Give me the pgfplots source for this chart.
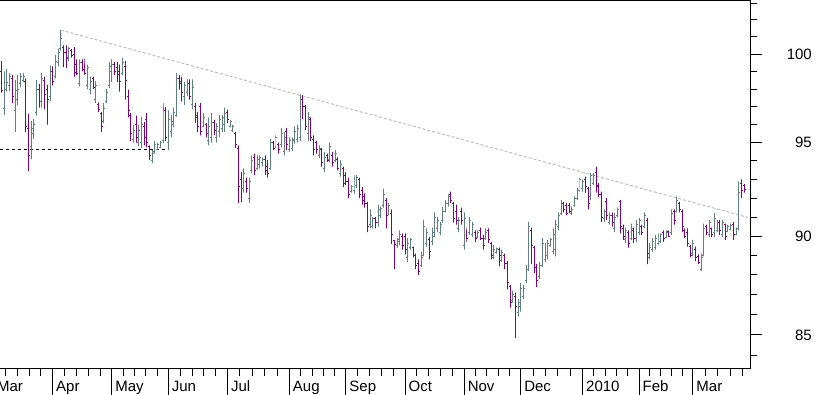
\documentclass[border=0pt]{standalone}
\usepackage{pgfplots}
\usepackage{pgfplotstable}
\pgfplotsset{compat=1.18}
\usepackage{fontspec}
\setmainfont{Liberation Sans}
\definecolor{upc}{RGB}{95,127,135}
\definecolor{downc}{RGB}{128,0,128}
\definecolor{trendc}{RGB}{190,190,190}
\pgfplotstableread{
k o h l c
-19 99.0 99.6 97.8 97.9
-18 96.9 99.0 96.55 98.0
-17 98.0 99.15 97.85 98.35
-16 98.2 98.9 97.9 98.7
-15 98.6 98.8 97.2 97.6
-14 96.8 98.5 95.6 97.9
-13 97.4 98.8 97.1 98.0
-12 98.3 98.9 98.1 98.7
-11 98.5 98.9 98.4 98.7
-10 98.4 98.6 95.6 95.9
-9 95.8 96.6 93.45 94.3
-8 94.8 96.2 94.1 95.8
-7 95.5 96.3 95.2 96.0
-6 96.7 98.5 96.5 98.0
-5 98.0 98.3 96.95 97.3
-4 97.3 98.9 96.95 98.6
-3 98.5 98.7 96.85 97.7
-2 98.0 98.25 96.0 97.4
-1 97.6 99.35 97.3 98.8
0 99.0 99.3 98.2 98.4
1 98.7 99.95 98.6 99.6
2 99.5 100.3 99.3 100.1
3 100.3 101.4 100.2 100.9
4 100.4 100.5 99.25 100.1
5 100.1 100.5 99.2 99.75
6 99.8 100.4 99.6 100.3
7 100.2 100.3 99.8 99.9
8 100.0 100.4 98.7 98.95
9 99.4 99.7 98.8 98.9
10 98.3 99.7 98.15 99.5
11 99.5 99.7 99.0 99.1
12 99.4 99.75 98.8 98.9
13 98.2 99.4 98.0 99.2
14 98.0 98.7 97.7 98.4
15 98.6 98.7 98.0 98.1
16 97.4 98.45 97.2 98.2
17 97.15 97.25 96.7 96.85
18 96.6 96.7 95.6 95.9
19 96.2 97.2 96.1 96.9
20 97.3 98.0 97.2 97.8
21 98.2 99.55 98.05 99.3
22 99.0 99.7 98.4 99.4
23 99.4 99.55 98.8 99.0
24 99.2 99.55 98.4 98.8
25 99.0 99.4 97.85 98.4
26 98.9 99.8 98.8 99.5
27 99.3 99.6 97.4 98.5
28 97.6 97.97 96.4 96.8
29 96.5 96.65 95.1 95.5
30 95.2 96.0 95.0 95.7
31 96.0 96.5 95.0 95.3
32 95.0 96.0 94.8 95.7
33 95.0 96.45 94.7 96.0
34 95.9 96.15 94.85 95.3
35 96.3 96.65 94.75 95.0
36 94.8 94.86 94.05 94.3
37 94.0 94.6 93.9 94.4
38 94.5 95.1 94.4 94.9
39 94.65 95.0 94.6 94.9
40 94.75 95.1 94.7 95.0
41 95.1 97.2 94.95 96.8
42 96.8 97.0 95.1 95.3
43 95.0 96.8 94.6 96.3
44 95.6 96.55 95.3 96.2
45 96.0 96.95 95.85 96.7
46 96.5 98.9 96.45 98.6
47 98.6 98.8 97.97 98.3
48 98.4 98.7 97.3 97.8
49 97.6 98.4 97.1 98.2
50 97.8 98.55 97.6 98.3
51 98.3 98.55 97.4 97.6
52 97.1 98.55 96.85 98.1
53 97.0 97.2 96.1 96.4
54 96.5 96.7 95.6 95.9
55 97.0 97.2 95.4 95.6
56 95.9 96.65 95.85 96.4
57 96.0 96.1 95.3 95.5
58 95.1 96.4 94.85 95.9
59 95.3 96.65 95.0 96.1
60 96.1 96.27 95.42 95.7
61 95.3 96.1 95.0 95.9
62 95.6 96.55 95.3 96.3
63 95.8 96.55 95.6 96.4
64 96.0 96.95 95.6 96.6
65 96.7 96.84 96.1 96.3
66 95.9 96.27 95.85 96.15
67 95.7 95.98 95.6 95.9
68 95.5 95.6 94.7 94.9
69 94.7 94.86 91.75 92.6
70 93.0 93.4 91.8 92.4
71 92.5 93.6 92.3 93.3
72 92.9 93.1 92.3 92.5
73 92.0 93.1 91.75 92.9
74 93.5 94.3 93.35 94.0
75 94.2 94.4 93.25 93.5
76 93.6 94.3 93.5 94.1
77 93.8 94.3 93.6 94.2
78 93.9 94.2 93.7 94.1
79 94.1 94.3 93.25 93.5
80 93.7 94.05 93.1 93.3
81 93.6 95.2 93.5 95.0
82 95.0 95.1 94.6 94.7
83 94.8 95.4 94.7 95.3
84 94.9 95.0 94.4 94.6
85 94.9 95.8 94.75 95.5
86 94.5 95.6 94.3 95.3
87 95.6 95.8 94.6 94.9
88 94.6 95.3 94.5 95.1
89 94.7 95.3 94.55 95.2
90 95.1 95.9 94.95 95.6
91 95.2 96.0 95.0 95.8
92 95.3 97.7 95.1 97.4
93 97.4 97.65 96.3 97.0
94 97.0 97.1 95.7 95.9
95 95.5 96.7 95.1 96.4
96 96.3 96.4 95.1 95.3
97 95.2 95.4 94.3 94.6
98 95.0 95.1 94.4 94.6
99 94.3 94.86 94.15 94.7
100 94.6 94.7 93.7 93.9
101 93.6 94.5 93.4 94.2
102 94.3 94.4 93.95 94.05
103 94.1 95.0 93.95 94.8
104 94.3 94.5 93.7 93.9
105 94.0 94.6 93.95 94.4
106 94.1 94.2 93.5 93.6
107 93.3 94.05 93.15 93.8
108 93.6 93.7 92.6 92.8
109 93.2 93.4 92.7 92.9
110 92.9 93.1 92.0 92.2
111 92.35 92.7 92.3 92.6
112 92.4 93.25 92.2 93.0
113 92.7 93.25 92.55 93.1
114 93.0 93.1 92.0 92.2
115 92.4 92.6 91.65 91.9
116 92.1 92.25 91.5 91.7
117 91.7 91.8 90.2 90.5
118 90.6 91.4 90.4 91.1
119 90.5 91.0 90.4 90.9
120 90.9 91.0 90.4 90.7
121 90.7 91.65 90.5 91.4
122 91.1 91.55 90.95 91.45
123 91.6 92.5 91.5 92.2
124 91.9 92.0 90.4 91.1
125 91.2 91.75 91.1 91.6
126 91.2 91.4 89.6 90.1
127 89.75 89.8 88.3 89.55
128 89.5 89.9 89.4 89.8
129 89.7 90.3 89.55 90.1
130 90.0 90.15 89.3 89.5
131 90.0 90.15 89.05 89.3
132 88.9 89.9 88.65 89.6
133 89.4 89.9 89.3 89.8
134 89.4 89.45 88.9 89.0
135 89.0 89.1 88.3 88.5
136 88.6 88.8 88.0 88.2
137 88.5 89.2 88.4 88.9
138 89.0 90.85 88.95 90.5
139 89.6 90.4 89.45 90.2
140 89.8 89.95 88.8 89.2
141 89.7 90.45 89.55 90.2
142 90.0 91.25 89.95 91.0
143 90.4 91.0 90.2 90.8
144 90.2 90.75 90.05 90.6
145 90.8 91.55 90.7 91.3
146 91.3 91.9 91.25 91.7
147 91.7 92.2 91.55 92.1
148 92.2 92.35 91.75 91.9
149 91.7 91.8 90.7 90.9
150 91.3 91.65 90.6 90.8
151 90.4 91.0 90.2 90.8
152 91.3 91.5 90.6 90.8
153 89.5 91.25 89.3 90.9
154 90.3 90.45 89.7 89.9
155 90.2 91.0 90.05 90.8
156 90.1 90.75 89.95 90.6
157 90.2 90.3 89.7 89.9
158 89.95 90.3 89.9 90.2
159 90.3 90.45 89.8 89.9
160 89.9 90.05 89.3 89.5
161 89.9 90.4 89.8 90.2
162 90.3 90.4 89.65 89.8
163 89.6 89.7 88.8 89.0
164 88.9 89.55 88.8 89.3
165 89.15 89.4 89.1 89.35
166 89.3 89.4 88.45 89.0
167 88.75 89.3 88.65 89.15
168 89.0 89.1 88.3 88.6
169 88.6 88.7 87.27 87.6
170 87.4 87.5 86.35 86.6
171 86.7 87.2 86.6 87.0
172 86.9 87.1 84.85 86.4
173 86.1 86.77 85.9 86.6
174 86.4 87.6 86.15 87.3
175 86.9 87.5 86.77 87.3
176 87.7 88.5 87.6 88.3
177 88.3 90.75 88.2 90.5
178 90.3 90.45 88.55 89.5
179 89.4 89.5 88.1 88.4
180 88.4 88.55 87.4 87.7
181 87.9 88.65 87.78 88.5
182 88.5 89.9 88.4 89.6
183 88.8 89.65 88.65 89.4
184 89.0 89.8 88.8 89.6
185 89.5 89.9 89.45 89.8
186 89.2 90.4 89.05 90.1
187 89.3 90.85 88.95 90.6
188 90.5 91.25 90.3 91.1
189 91.2 91.9 91.1 91.7
190 91.7 91.8 91.25 91.4
191 91.6 91.75 91.1 91.2
192 91.6 91.75 91.2 91.3
193 91.2 91.55 91.1 91.4
194 91.6 92.1 91.55 92.0
195 92.0 92.55 91.9 92.4
196 92.4 93.1 92.35 93.0
197 92.5 93.0 92.35 92.9
198 93.0 93.15 92.3 92.6
199 92.5 92.6 91.4 91.7
200 92.1 93.35 91.9 93.2
201 92.8 93.35 92.7 93.2
202 93.4 93.7 92.3 92.6
203 92.7 92.8 92.05 92.2
204 92.2 92.35 90.75 91.0
205 90.9 91.4 90.75 91.3
206 91.8 92.0 90.85 91.1
207 90.7 91.25 90.6 91.1
208 91.1 91.25 90.5 90.7
209 90.4 91.2 90.2 91.0
210 91.1 91.5 91.0 91.4
211 91.8 91.9 90.15 90.5
212 90.4 90.6 89.8 90.0
213 89.8 90.45 89.65 90.3
214 90.2 90.3 89.4 89.6
215 89.9 90.65 89.8 90.4
216 90.3 90.45 89.65 89.85
217 89.9 90.85 89.7 90.6
218 90.2 90.95 90.05 90.8
219 90.5 90.6 90.05 90.2
220 90.5 91.25 90.4 91.1
221 90.8 90.95 88.55 89.1
222 88.9 89.65 88.8 89.4
223 89.3 89.9 89.2 89.7
224 89.4 90.05 89.3 89.85
225 89.6 90.15 89.55 90.0
226 89.7 90.15 89.65 90.1
227 90.2 90.3 89.7 89.9
228 89.95 90.3 89.9 90.2
229 90.25 90.3 89.95 90.0
230 90.2 91.4 90.05 91.2
231 91.3 91.4 90.6 90.8
232 91.3 92.1 91.25 91.9
233 91.7 91.8 91.25 91.4
234 91.3 91.4 90.2 90.5
235 90.3 90.4 89.9 90.0
236 90.2 90.4 89.45 89.6
237 89.45 89.55 88.9 89.0
238 89.1 89.8 88.95 89.6
239 89.3 89.45 88.7 88.9
240 88.95 89.05 88.55 88.65
241 88.3 89.1 88.2 88.9
242 89.0 90.65 88.95 90.4
243 90.5 90.6 90.05 90.2
244 90.1 90.85 89.95 90.7
245 90.4 90.45 89.95 90.1
246 90.2 91.2 89.95 90.9
247 90.3 90.85 90.2 90.7
248 90.7 90.85 90.05 90.3
249 90.1 90.85 89.95 90.7
250 90.6 90.65 89.8 90.0
251 90.25 90.6 90.2 90.5
252 90.35 90.65 90.3 90.55
253 90.6 90.75 89.8 90.1
254 90.1 90.45 90.05 90.4
255 90.4 92.9 90.3 92.3
256 92.8 93.0 92.0 92.4
257 92.65 92.75 92.3 92.45
}\bars
\begin{document}
\begin{tikzpicture}
\begin{axis}[
  at={(0pt,0pt)}, anchor=south west,
  scale only axis, width=750pt, height=369pt,
  xmin=-19.59, xmax=259.2,
  ymode=log, ymin=83.34, ymax=103.19,
  axis line style={draw=none},
  clip=false,
  tick align=outside,
  tick style={black, line width=1pt},
  major tick length=12pt, minor tick length=7pt,
  xtick pos=bottom, ytick pos=right,
  xtick={0,22,43,65,88,109,131,153,174,197,218,238},
  minor xtick={-17.6,-13.2,-8.8,-4.4,4.4,8.8,13.2,17.6,26.2,30.4,34.6,38.8,47.4,51.8,56.2,60.6,69.6,74.2,78.8,83.4,92.2,96.4,100.6,104.8,113.4,117.8,122.2,126.6,135.4,139.8,144.2,148.6,157.2,161.4,165.6,169.8,178.6,183.2,187.8,192.4,201.2,205.4,209.6,213.8,222,226,230,234,242.6,247.2,251.8,256.4},
  xticklabels={},
  ytick={85,90,95,100},
  minor ytick={84,86,87,88,89,91,92,93,94,96,97,98,99,101,102,103},
  yticklabels={},
]
% trend line and support line
\addplot[trendc, line width=1pt, dash pattern=on 3pt off 2pt, forget plot] coordinates {(3,101.4) (258.5,90.98)};
\addplot[black, line width=1pt, dash pattern=on 3.5pt off 2.5pt, forget plot] coordinates {(-19.6,94.62) (42.9,94.62)};
% OHLC bars
\pgfplotstablegetrowsof{\bars}
\pgfmathtruncatemacro{\nlast}{\pgfplotsretval-1}
\pgfplotsforeachungrouped \i in {0,...,\nlast}{%
  \pgfplotstablegetelem{\i}{k}\of\bars \let\bk\pgfplotsretval
  \pgfplotstablegetelem{\i}{o}\of\bars \let\bo\pgfplotsretval
  \pgfplotstablegetelem{\i}{h}\of\bars \let\bh\pgfplotsretval
  \pgfplotstablegetelem{\i}{l}\of\bars \let\bl\pgfplotsretval
  \pgfplotstablegetelem{\i}{c}\of\bars \let\bc\pgfplotsretval
  \pgfmathsetmacro{\bkl}{\bk-0.55}%
  \pgfmathsetmacro{\bkr}{\bk+0.55}%
  \pgfmathtruncatemacro{\isdown}{\bc<\bo}%
  \ifnum\isdown=1 \def\bcol{downc}\else\def\bcol{upc}\fi
  \edef\temp{\noexpand\addplot[\bcol, line width=1pt, line join=bevel, forget plot] coordinates {(\bkl,\bo) (\bk,\bo) (\bk,\bl) (\bk,\bh) (\bk,\bc) (\bkr,\bc)};}%
  \temp
}
% frame: top, right, bottom
\draw[black, line width=1pt] ([yshift=-0.5pt]rel axis cs:0,1) -- ([yshift=-0.5pt]rel axis cs:1,1) -- (rel axis cs:1,0) -- (rel axis cs:0,0);
% month separators
\pgfplotsinvokeforeach{0,22,43,65,88,109,131,153,174,197,218,238}{%
  \draw[black, line width=1pt] (axis cs:#1,83.34) -- ++(0pt,-26pt);
}
% month labels
\tikzset{mlab/.style={anchor=base west, inner sep=0pt, font=\fontsize{15}{15}\selectfont}}
\node[mlab] at ([xshift=3.3pt,yshift=-22.5pt]axis cs:-22,83.34) {Mar};
\node[mlab] at ([xshift=3.3pt,yshift=-22.5pt]axis cs:0,83.34) {Apr};
\node[mlab] at ([xshift=3.3pt,yshift=-22.5pt]axis cs:22,83.34) {May};
\node[mlab] at ([xshift=3.3pt,yshift=-22.5pt]axis cs:43,83.34) {Jun};
\node[mlab] at ([xshift=3.3pt,yshift=-22.5pt]axis cs:65,83.34) {Jul};
\node[mlab] at ([xshift=3.3pt,yshift=-22.5pt]axis cs:88,83.34) {Aug};
\node[mlab] at ([xshift=3.3pt,yshift=-22.5pt]axis cs:109,83.34) {Sep};
\node[mlab] at ([xshift=3.3pt,yshift=-22.5pt]axis cs:131,83.34) {Oct};
\node[mlab] at ([xshift=3.3pt,yshift=-22.5pt]axis cs:153,83.34) {Nov};
\node[mlab] at ([xshift=3.3pt,yshift=-22.5pt]axis cs:174,83.34) {Dec};
\node[mlab] at ([xshift=3.3pt,yshift=-22.5pt]axis cs:197,83.34) {2010};
\node[mlab] at ([xshift=3.3pt,yshift=-22.5pt]axis cs:218,83.34) {Feb};
\node[mlab] at ([xshift=3.3pt,yshift=-22.5pt]axis cs:238,83.34) {Mar};
% price labels
\tikzset{ylab/.style={anchor=east, inner sep=0pt, font=\fontsize{15}{15}\selectfont}}
\node[ylab] at ([xshift=62pt]axis cs:259.2,100) {100};
\node[ylab] at ([xshift=62pt]axis cs:259.2,95) {95};
\node[ylab] at ([xshift=62pt]axis cs:259.2,90) {90};
\node[ylab] at ([xshift=62pt]axis cs:259.2,85) {85};
\end{axis}
\pgfresetboundingbox
\path[use as bounding box] (0pt,-26pt) rectangle (817pt,369pt);
\end{tikzpicture}
\end{document}
